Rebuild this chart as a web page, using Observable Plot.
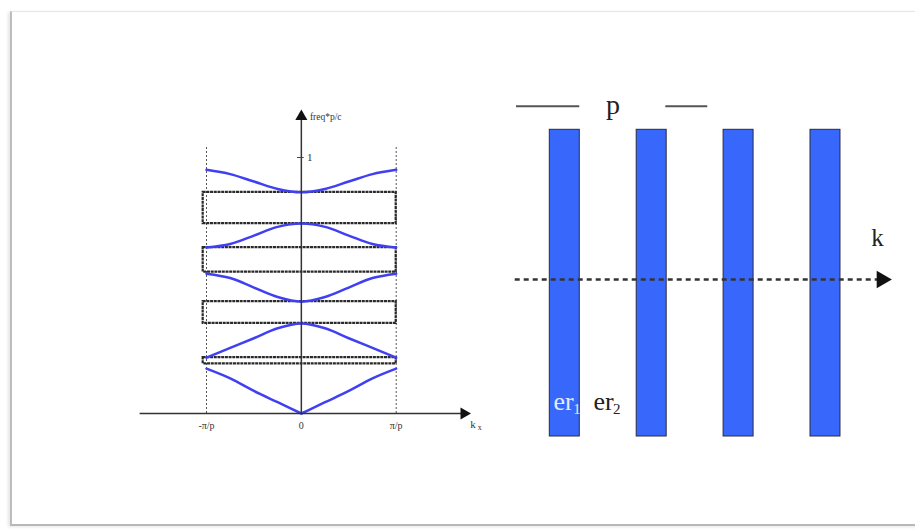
<!DOCTYPE html>
<html>
<head>
<meta charset="utf-8">
<script src="https://cdn.jsdelivr.net/npm/d3@7"></script>
<script src="https://cdn.jsdelivr.net/npm/@observablehq/plot@0.6"></script>
<style>
  html, body { margin: 0; padding: 0; background: #fff; }
  #page { position: relative; width: 915px; height: 529px; overflow: hidden; background: #fff; }
  #frame {
    position: absolute; left: 10px; top: 11px; width: 920px; height: 512px;
    border-top: 1px solid #e6e6e6; border-left: 2px solid #bdbdbd; border-bottom: 2px solid #b8b8b8;
    box-shadow: -2px 1px 3px rgba(0,0,0,0.10);
  }
  #band { position: absolute; left: 0; top: 0; }
  #layers { position: absolute; left: 500px; top: 0; }
</style>
</head>
<body>
<div id="page"><div id="frame"></div><div id="band"></div><div id="layers"></div></div>
<script>
// Wavevector samples across the first Brillouin zone, in units of π/p
const kSamples = [-1, -0.75, -0.5, -0.25, 0, 0.25, 0.5, 0.75, 1];
// Normalized frequency (freq*p/c) of the five lowest bands at those samples
const band1 = [0.175, 0.137, 0.088, 0.044, 0.000, 0.044, 0.088, 0.137, 0.175];
const band2 = [0.218, 0.256, 0.294, 0.333, 0.352, 0.333, 0.294, 0.256, 0.218];
const band3 = [0.546, 0.529, 0.492, 0.455, 0.437, 0.455, 0.492, 0.529, 0.546];
const band4 = [0.648, 0.662, 0.695, 0.729, 0.742, 0.729, 0.695, 0.662, 0.648];
const band5 = [0.952, 0.935, 0.906, 0.877, 0.864, 0.877, 0.906, 0.935, 0.952];
// Photonic band gaps: lower and upper edge frequencies
const gapLow  = [0.194, 0.352, 0.552, 0.742];
const gapHigh = [0.218, 0.437, 0.648, 0.864];
// Axis tick labels
const kTicks = [-1, 0, 1];
const kTickLabels = ["-\u03c0/p", "0", "\u03c0/p"];

// Layered stack: start of each high-index slab (in periods) and slab thickness
const slabStart = [0, 1, 2, 3];
const slabWidth = 0.345;

const serif = "'Liberation Serif', 'Times New Roman', serif";
const blue = "#4040f2";

const bandRows = [band1, band2, band3, band4, band5].flatMap((b, j) =>
  b.map((f, i) => ({band: j + 1, k: kSamples[i], f})));
const gaps = gapLow.map((lo, i) => ({lo, hi: gapHigh[i]}));
// the lowest band has a sharp vertex at k = 0, so its two halves are drawn separately
const lowestLeft = bandRows.filter(d => d.band === 1 && d.k <= 0);
const lowestRight = bandRows.filter(d => d.band === 1 && d.k >= 0);
const upperBands = bandRows.filter(d => d.band > 1);

const bandPlot = Plot.plot({
  width: 500, height: 529, margin: 0,
  x: {domain: [-1, 1], range: [206, 395.7], axis: null},
  y: {domain: [0, 1], range: [413, 157], axis: null},
  style: {background: "transparent", fontFamily: serif},
  marks: [
    // zone boundaries
    Plot.ruleX([-1, 1], {y1: 0, y2: 1.04, stroke: "#555", strokeWidth: 1, strokeDasharray: "2,2"}),
    // band gaps
    Plot.rect(gaps, {x1: -1.035, x2: 1, y1: "lo", y2: "hi", fill: "none", stroke: "#2a2a2a", strokeWidth: 2.2, strokeDasharray: "3,0.7"}),
    // dispersion curves
    Plot.line(upperBands, {x: "k", y: "f", z: "band", stroke: blue, strokeWidth: 2.5, curve: "catmull-rom"}),
    Plot.line(lowestLeft, {x: "k", y: "f", stroke: blue, strokeWidth: 2.5, curve: "monotone-x"}),
    Plot.line(lowestRight, {x: "k", y: "f", stroke: blue, strokeWidth: 2.5, curve: "monotone-x"}),
    // axes with arrowheads
    Plot.ruleY([0], {x1: -1.70, x2: 1.70, stroke: "#333", strokeWidth: 1.5}),
    Plot.ruleX([0], {y1: 0, y2: 1.15, stroke: "#333", strokeWidth: 1.5}),
    Plot.dot([0], {x: 1.715, y: 0, symbol: "triangle", rotate: 90, r: 4.5, fill: "#111", stroke: "none"}),
    Plot.dot([0], {x: 0, y: 1.16, symbol: "triangle", r: 4.5, fill: "#111", stroke: "none"}),
    // tick at freq*p/c = 1
    Plot.ruleY([1], {x1: -0.04, x2: 0.03, stroke: "#444", strokeWidth: 1}),
    Plot.text(["1"], {x: 0.06, y: 1, text: d => d, textAnchor: "start", fontSize: 11, fill: "#333"}),
    Plot.text(["freq*p/c"], {x: 0.09, y: 1.16, text: d => d, textAnchor: "start", fontSize: 9.5, fill: "#333"}),
    // wavevector tick labels
    Plot.text(kTicks, {x: d => d, y: 0, text: (d, i) => kTickLabels[i], dy: 12, fontSize: 10, fill: "#333"}),
    Plot.text(["k"], {x: 1.78, y: 0, text: d => d, dy: 11, textAnchor: "start", fontSize: 11, fill: "#333"}),
    Plot.text(["x"], {x: 1.86, y: 0, text: d => d, dy: 14, textAnchor: "start", fontSize: 8, fill: "#333"})
  ]
});
document.getElementById("band").appendChild(bandPlot);

const layerPlot = Plot.plot({
  width: 415, height: 529, margin: 0,
  x: {domain: [0, 1], range: [49.3, 136.2], axis: null},
  y: {domain: [0, 1], range: [436, 129.3], axis: null},
  style: {background: "transparent", fontFamily: serif},
  marks: [
    // period marker
    Plot.ruleY([1.077], {x1: -0.383, x2: slabWidth, stroke: "#555", strokeWidth: 2}),
    Plot.ruleY([1.077], {x1: 1 + slabWidth - 0.01, x2: 1.818, stroke: "#555", strokeWidth: 2}),
    Plot.text(["p"], {x: 0.727, y: 1.05, text: d => d, lineAnchor: "bottom", fontSize: 28, fill: "#222"}),
    // dielectric slabs
    Plot.rect(slabStart, {x1: d => d, x2: d => d + slabWidth, y1: 0, y2: 1, fill: "#3868fb", stroke: "#2a2a40", strokeWidth: 1}),
    // propagation direction
    Plot.ruleY([0.512], {x1: -0.398, x2: 3.80, stroke: "#333", strokeWidth: 2.5, strokeDasharray: "5,4"}),
    Plot.dot([0], {x: 3.82, y: 0.512, symbol: "triangle", rotate: 90, r: 6.5, fill: "#111", stroke: "none"}),
    Plot.text(["k"], {x: 3.77, y: 0.621, text: d => d, lineAnchor: "bottom", fontSize: 25, fill: "#222"}),
    // permittivity labels
    Plot.text(["er"], {x: 0.042, y: 0.087, text: d => d, textAnchor: "start", lineAnchor: "bottom", fontSize: 26, fill: "#e4ebff"}),
    Plot.text(["1"], {x: 0.27, y: 0.072, text: d => d, textAnchor: "start", lineAnchor: "bottom", fontSize: 15, fill: "#e4ebff"}),
    Plot.text(["er"], {x: 0.503, y: 0.087, text: d => d, textAnchor: "start", lineAnchor: "bottom", fontSize: 26, fill: "#222"}),
    Plot.text(["2"], {x: 0.728, y: 0.072, text: d => d, textAnchor: "start", lineAnchor: "bottom", fontSize: 15, fill: "#222"})
  ]
});
document.getElementById("layers").appendChild(layerPlot);
</script>
</body>
</html>
